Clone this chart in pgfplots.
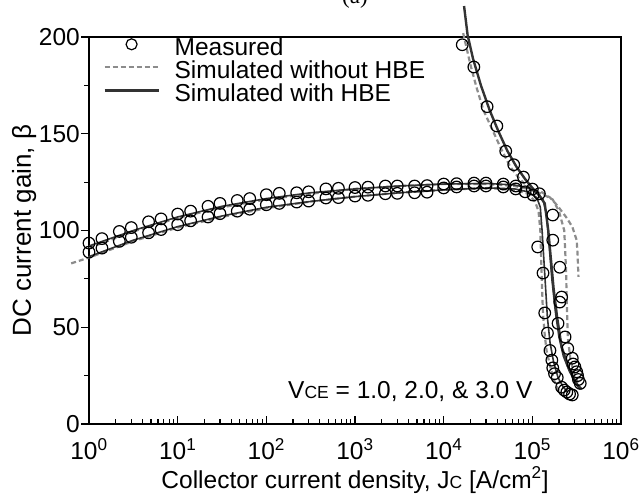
\documentclass[border=0pt]{standalone}
\usepackage{pgfplots}
\pgfplotsset{compat=1.18}
\usepackage{fontspec}
\setmainfont{Liberation Sans}
\newfontfamily\seriffont{Liberation Serif}
\definecolor{simdark}{HTML}{333333}
\definecolor{simgrey}{HTML}{8C8C8C}
\newcommand{\bigf}{\fontsize{24.5}{24.5}\selectfont}
\newcommand{\smc}[1]{{\fontsize{17.5}{17.5}\selectfont #1}}
\begin{document}
\begin{tikzpicture}
\begin{axis}[
  scale only axis, width=532pt, height=387pt,
  xmode=log, xmin=1, xmax=1e6, ymin=0, ymax=200,
  clip=false,
  axis line style={line width=1.2pt, black},
  xtick={1,10,100,1000,10000,100000,1000000},
  xticklabels={10\textsuperscript{0},10\textsuperscript{1},10\textsuperscript{2},10\textsuperscript{3},10\textsuperscript{4},10\textsuperscript{5},10\textsuperscript{6}},
  minor xtick={2,3,4,5,6,7,8,9,20,30,40,50,60,70,80,90,200,300,400,500,600,700,800,900,2000,3000,4000,5000,6000,7000,8000,9000,20000,30000,40000,50000,60000,70000,80000,90000,200000,300000,400000,500000,600000,700000,800000,900000},
  ytick={0,50,100,150,200}, yticklabels={0,50,100,150,200},
  minor ytick={25,75,125,175},
  xtick pos=bottom, ytick pos=left,
  xtick align=inside, ytick align=outside,
  major tick length=8pt, minor tick length=5pt,
  tick style={line width=1.1pt, black},
  tick label style={font=\bigf},
  xticklabel style={inner sep=0pt, yshift=-14pt},
  yticklabel style={inner sep=0pt, xshift=-1pt},
  xlabel={Collector current density, J\smc{C} [A/cm\textsuperscript{2}]},
  ylabel={DC current gain, β},
  xlabel style={font=\bigf, at={(rel axis cs:0.5,0)}, anchor=base, yshift=-64pt},
  ylabel style={font=\fontsize{26}{26}\selectfont, at={([xshift=-58pt]rel axis cs:0,0.5)}, anchor=base},
  legend cell align=left,
  legend style={at={(rel axis cs:0,1)}, anchor=north west, xshift=14pt, yshift=-1pt,
    draw=none, fill=none, inner sep=0pt, row sep=2pt, font=\bigf,
    nodes={inner sep=0pt, text height=17pt, text depth=4pt}},
]
\addlegendimage{legend image code/.code={\path[draw=none,fill=none] (0pt,0pt) -- (70pt,0pt); \draw[black, line width=1.2pt] (27pt,5pt) circle (5.5pt);}}
\addlegendentry{Measured}
\addlegendimage{legend image code/.code={\path[draw=none,fill=none] (0pt,0pt) -- (70pt,0pt); \draw[simgrey, line width=2.2pt, dash pattern=on 5pt off 3pt] (0pt,5pt) -- (54pt,5pt);}}
\addlegendentry{Simulated without HBE}
\addlegendimage{legend image code/.code={\path[draw=none,fill=none] (0pt,0pt) -- (70pt,0pt); \draw[simdark, line width=2.8pt] (0pt,5pt) -- (54pt,5pt);}}
\addlegendentry{Simulated with HBE}

% ---- simulated without HBE (dashed)
\addplot[forget plot, simgrey, line width=2.2pt, dash pattern=on 5pt off 3pt] coordinates {
(0.63,83) (1,86) (3.16,94.5) (10,101.5) (31.6,107) (100,111.5) (316,115) (1000,117.5) (3162,119.5) (10000,121) (31623,122) (63096,121) (89125,119) (107152,115) (117490,110) (123027,100) (125893,85) (128825,70) (131826,57) (138038,46) (144544,38) (158489,30) (177828,22) (199526,17)};
\addplot[forget plot, simgrey, line width=2.2pt, dash pattern=on 5pt off 3pt] coordinates {
(1,91) (3.16,99.5) (10,106.5) (31.6,112) (100,116) (316,119) (1000,121.5) (3162,123) (10000,124) (31623,124) (63096,123) (100000,121) (141254,118) (169824,116) (199526,110) (229087,100) (239883,80) (245471,60) (251189,45) (269153,33) (301995,25) (338844,20)};
\addplot[forget plot, simgrey, line width=2.2pt, dash pattern=on 5pt off 3pt] coordinates {
(125893,120) (158489,117) (190546,113) (239883,107) (281838,102) (316228,95) (323594,88) (331131,76)};
\addplot[forget plot, simgrey, line width=2.2pt, dash pattern=on 5pt off 3pt] coordinates {
(16596,202) (19953,186) (23442,174) (28184,162) (35481,152) (44668,142) (56234,133) (70795,127) (89125,122.5) (112202,120)};

% ---- simulated with HBE (solid)
\addplot[forget plot, simdark, line width=1.6pt] coordinates {
(1,86.5) (3.16,95) (10,102) (31.6,107.5) (100,112) (316,115) (1000,117.5) (3162,119.5) (10000,121) (31623,122) (63096,121.5) (89125,120) (112202,117) (123027,112) (128825,100) (134896,85) (141254,70) (147911,55) (158489,42) (173780,32) (194984,24) (223872,19) (251189,16.5)};
\addplot[forget plot, simdark, line width=1.6pt] coordinates {
(1,92) (3.16,100) (10,107) (31.6,112.5) (100,116.5) (316,119.5) (1000,121.5) (3162,123) (10000,124) (31623,124.3) (63096,123.5) (89125,122) (112202,119.5) (131826,116) (144544,108) (154882,92) (165959,75) (181970,58) (199526,45) (223872,35) (263027,27) (316228,21) (363078,18)};
\addplot[forget plot, simdark, line width=2.4pt] coordinates {
(16982,216) (18621,201) (21380,189) (26303,175) (33113,162) (41687,151) (52481,141) (66069,133) (83176,126.5) (100000,122) (120226,118) (138038,114) (151356,100) (162181,85) (173780,70) (190546,55) (213796,40) (251189,30) (301995,22) (346737,18)};

% ---- measured
\addplot[forget plot, only marks, mark=o, mark size=5.8pt, black, mark options={line width=1.2pt}] coordinates {
(1,93.5) (1.4,95.8) (2.2,99.5) (3.0,101.5) (4.7,104.5) (6.5,106)
(10,108.5) (14,110) (22,112.5) (30,114) (47,115.5) (65,116.5)
(100,118.5) (140,119.2) (220,119.5) (300,120) (470,121.5) (650,121.8)
(1000,122.2) (1400,122.4) (2200,123) (3000,123) (4700,123) (6500,123.2)
(10000,124) (14000,124.2) (22000,124.5) (30000,124.5) (47000,124) (65000,123)
(1,88.8) (1.4,90.9) (2.2,94.4) (3.0,96.5) (4.7,98.8) (6.5,100.5)
(10,103) (14,105) (22,107) (30,108.7) (47,110) (65,111)
(100,113.3) (140,114) (220,114.7) (300,115.2) (470,116.8) (650,117)
(1000,117.8) (1400,118.2) (2200,119) (3000,119.2) (4700,119.5) (6500,119.8)
(10000,122) (14000,122.5) (22000,123) (30000,123) (47000,122.5) (65000,121.5)
(83000,120)
(16200,196) (21900,184.5) (30900,164) (39800,154) (50100,141) (61700,134) (79400,127.6) (100000,121.4) (120000,119)
(102000,118.3) (170000,108) (115000,91.5) (170000,95) (204000,81) (132000,78) (214000,65.6) (138000,57.4) (204000,63) (195000,52) (148000,47) (234000,45) (158000,38) (251000,39) (166000,33) (282000,34) (170000,29) (302000,29.5) (191000,24) (324000,25) (214000,19) (347000,21) (245000,16.5) (282000,15) (178000,26) (229000,17.5) (263000,15.5) (331000,23) (316000,27) (288000,31)};

\node[anchor=base east, font=\bigf] at (axis cs:1.1e5,13.4) {V\smc{CE} = 1.0, 2.0, \& 3.0 V};
\node[anchor=base, font=\seriffont\fontsize{23}{23}\selectfont] at ([yshift=33pt]rel axis cs:0.5,1) {(a)};
\coordinate (BL) at (rel axis cs:0,0);
\coordinate (TR) at (rel axis cs:1,1);
\end{axis}
\pgfresetboundingbox
\path[use as bounding box] ([xshift=-89pt,yshift=-71pt]BL) rectangle ([xshift=21pt,yshift=37pt]TR);
\end{tikzpicture}
\end{document}
